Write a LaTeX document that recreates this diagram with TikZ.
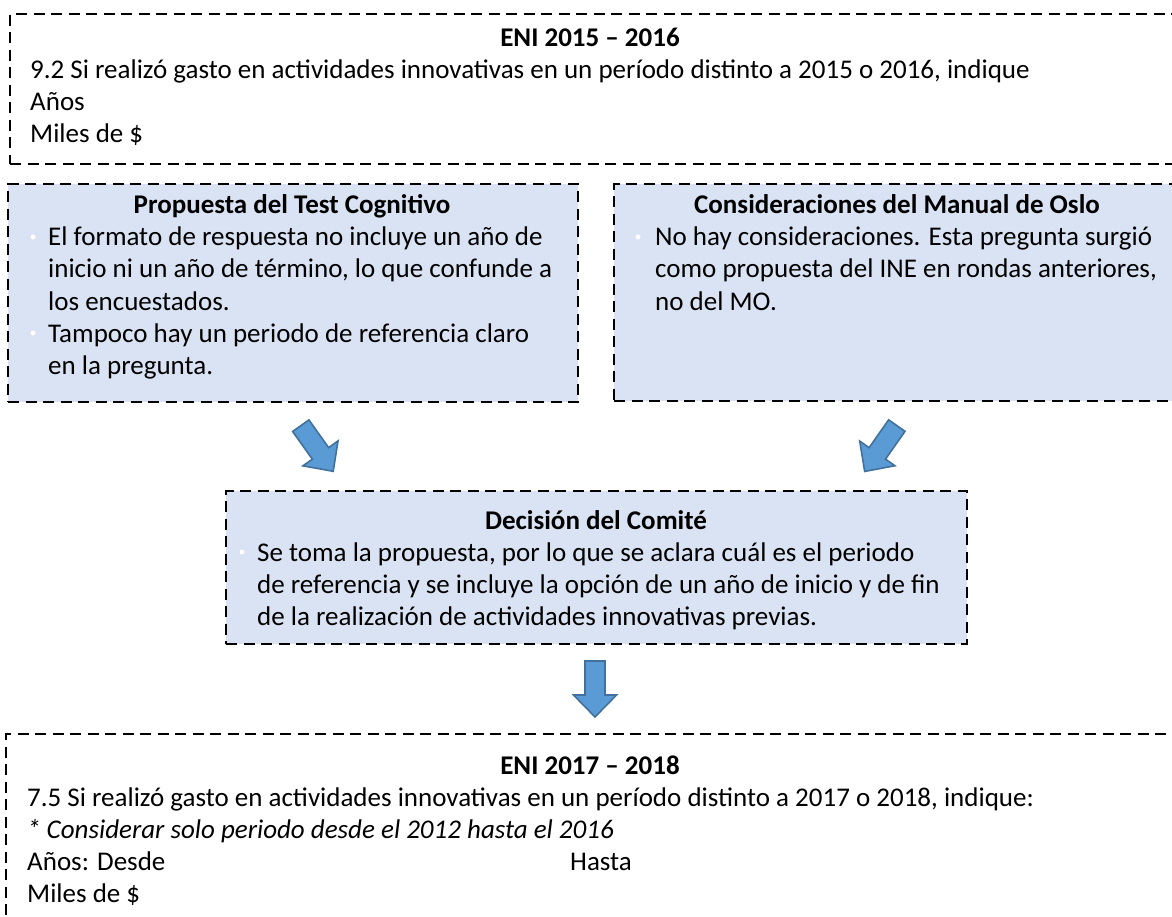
\documentclass[tikz,border=0pt]{standalone}
\usepackage{fontspec}
\setmainfont{Carlito}
\definecolor{boxfill}{HTML}{DAE3F3}
\definecolor{arrfill}{HTML}{5B9BD5}
\definecolor{arrdraw}{HTML}{41719C}
\newcommand\fs{\fontsize{27}{32}\selectfont}
\begin{document}
\begin{tikzpicture}[x=1pt,y=-1pt,
  box/.style={draw=black, line width=2.4pt, dash pattern=on 11pt off 6.5pt, anchor=north west, inner sep=0pt, rectangle},
  boxb/.style={box, fill=boxfill},
  ttl/.style={font=\fs\bfseries, anchor=base, inner sep=0pt},
  txt/.style={font=\fs, anchor=base west, inner sep=0pt},
  itxt/.style={font=\fs\itshape, anchor=base west, inner sep=0pt},
  dot/.style={circle, fill=white, inner sep=0pt, minimum size=5pt},
  barrow/.style={fill=arrfill, draw=arrdraw, line width=1.6pt, line join=miter}
]
\useasboundingbox[fill=white] (0,0) rectangle (1172,917);
% boxes
\node[box, minimum width=1176pt, minimum height=150pt] (top) at (9,13) {};
\node[boxb, minimum width=570pt, minimum height=218pt] (prop) at (7,183) {};
\node[boxb, minimum width=568pt, minimum height=217pt] (cons) at (613,183) {};
\node[boxb, minimum width=741pt, minimum height=153pt] (dec) at (225,490) {};
\node[box, minimum width=1180pt, minimum height=200pt] (bot) at (5,733) {};
% top text
\node[ttl] (t0) at (590,47) {ENI 2015 -- 2016};
\node[txt] (t1) at (30,79) {9.2 Si realizó gasto en actividades innovativas en un período distinto a 2015 o 2016, indique};
\node[txt] (t2) at (30,111) {Años};
\node[txt] (t3) at (30,143) {Miles de \$};
% propuesta
\node[ttl] (p0) at (292,214) {Propuesta del Test Cognitivo};
\node[dot] (pd1) at (33,237) {};
\node[txt] (p1) at (48,246) {El formato de respuesta no incluye un año de};
\node[txt] (p2) at (48,278) {inicio ni un año de término, lo que confunde a};
\node[txt] (p3) at (48,310) {los encuestados.};
\node[dot] (pd2) at (33,333) {};
\node[txt] (p4) at (48,342) {Tampoco hay un periodo de referencia claro};
\node[txt] (p5) at (48,374) {en la pregunta.};
% consideraciones
\node[ttl] (c0) at (897,214) {Consideraciones del Manual de Oslo};
\node[dot] (cd1) at (638,237) {};
\node[txt] (c1) at (655,246) {No hay consideraciones. Esta pregunta surgió};
\node[txt] (c2) at (655,278) {como propuesta del INE en rondas anteriores,};
\node[txt] (c3) at (655,310) {no del MO.};
% decision
\node[ttl] (d0) at (596,529) {Decisión del Comité};
\node[dot] (dd1) at (242,552) {};
\node[txt] (d1) at (257,561) {Se toma la propuesta, por lo que se aclara cuál es el periodo};
\node[txt] (d2) at (257,593) {de referencia y se incluye la opción de un año de inicio y de fin};
\node[txt] (d3) at (257,625) {de la realización de actividades innovativas previas.};
% bottom
\node[ttl] (b0) at (590,774) {ENI 2017 -- 2018};
\node[txt] (b1) at (27,806) {7.5 Si realizó gasto en actividades innovativas en un período distinto a 2017 o 2018, indique:};
\node[itxt] (b2) at (27,838) {* Considerar solo periodo desde el 2012 hasta el 2016};
\node[txt] (b3) at (27,870) {Años: Desde};
\node[txt] (b3h) at (570,870) {Hasta};
\node[txt] (b4) at (27,902) {Miles de \$};
% block arrows (shaft 20, head 43, length 56, head length 22)
\coordinate (a1) at (317,448.5);
\coordinate (a2) at (880.75,448.5);
\coordinate (a3) at (595,689);
\foreach \c/\ang in {a1/-54.6, a2/-125, a3/-90}{
  \begin{scope}[shift={(\c)}, rotate=\ang]
    \draw[barrow] (-28,-10) -- (6,-10) -- (6,-21.5) -- (28,0) -- (6,21.5) -- (6,10) -- (-28,10) -- cycle;
  \end{scope}
}
\end{tikzpicture}
\end{document}
